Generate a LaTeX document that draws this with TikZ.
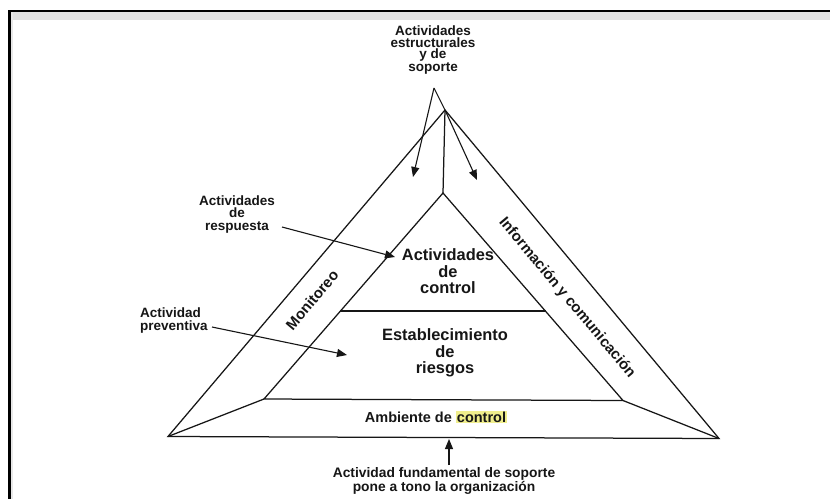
\documentclass[tikz,border=0pt]{standalone}
\usepackage{fontspec}
\setmainfont{Liberation Sans}
\usetikzlibrary{arrows.meta}
\definecolor{ink}{RGB}{22,22,22}
\definecolor{band}{RGB}{226,226,226}
\definecolor{hl}{RGB}{240,238,140}
\newcommand{\fsz}[2]{\fontsize{#1}{#2}\selectfont}

\begin{document}
\begin{tikzpicture}[x=1pt,y=-1pt,
  edge/.style={draw=ink, line width=1.25pt, line join=miter},
  pointer/.style={draw=ink, line width=1.1pt, -{Triangle[length=10pt,width=8pt]}},
  lbl/.style={inner sep=0pt, text=ink, align=center},
  small/.style={font=\bfseries\fsz{13.5}{12.5}},
  large/.style={font=\bfseries\fsz{16.4}{16.7}},
  side/.style={font=\bfseries\fsz{15}{16}}]

  % page and window frame
  \useasboundingbox (0,0) rectangle (830,499);
  \fill[white] (0,0) rectangle (830,499);
  \fill[band] (11,12) rectangle (830,20);
  \fill[gray!18] (11,12) rectangle (13,499);
  \fill[black] (8,9.5) rectangle (830,12);
  \fill[black] (8,9.5) rectangle (11,499);

  % corner points of the pyramid
  \coordinate (top) at (434,88);
  \coordinate (apex) at (445,110);
  \coordinate (ol) at (168,436.5);
  \coordinate (or) at (719,438.5);
  \coordinate (ia) at (443,193);
  \coordinate (il) at (264,399);
  \coordinate (ir) at (623,400.5);
  \coordinate (ml) at (340,311);
  \coordinate (mr) at (546,311);

  % outer and inner triangles with their joins
  \draw[edge] (ol) -- (apex) -- (or) -- cycle;
  \draw[edge] (il) -- (ia) -- (ir) -- cycle;
  \draw[edge] (ol) -- (il);
  \draw[edge] (or) -- (ir);
  \draw[edge] (apex) -- (ia);
  \draw[edge] (ml) -- (mr);

  % texts
  \node[lbl, font=\bfseries\fsz{13.5}{11.5}, anchor=north] (struct) at (433,26)
    {Actividades\\estructurales\\y de\\soporte};
  \node[lbl, small, anchor=north] (resp) at (237,195.3)
    {Actividades\\de\\respuesta};
  \node[lbl, font=\bfseries\fsz{13.5}{13}, align=left, anchor=north west] (prev) at (140,307.5)
    {Actividad\\preventiva};
  \node[lbl, large, anchor=north] (ctrl) at (448,248.5)
    {Actividades\\de\\control};
  \node[lbl, large, anchor=north] (risk) at (445,328.5)
    {Establecimiento\\de\\riesgos};
  \node[lbl, side, rotate=50] (mon) at (312,300) {Monitoreo};
  \node[lbl, side, rotate=-50] (info) at (567,298) {Información y comunicación};
  \node[lbl, font=\bfseries\fsz{14.5}{16}, anchor=base] (amb) at (436,422)
    {Ambiente de {\setlength\fboxsep{1pt}\colorbox{hl}{control}}};
  \node[lbl, font=\bfseries\fsz{13.8}{14}, anchor=north] (fund) at (444,467)
    {Actividad fundamental de soporte\\pone a tono la organización};

  % pointers
  \coordinate (tipM) at (413,177);
  \coordinate (tipI) at (477,180);
  \coordinate (respEnd) at (282,227);
  \coordinate (tipC) at (395,257);
  \coordinate (prevEnd) at (212,327);
  \coordinate (tipR) at (347,355);
  \coordinate (fundTop) at (449,465);
  \coordinate (tipA) at (449,439);

  \draw[pointer] (top) -- (tipM);
  \draw[edge, line width=1.1pt] (top) -- (apex);
  \draw[pointer] (apex) -- (tipI);
  \draw[pointer] (respEnd) -- (tipC);
  \draw[pointer] (prevEnd) -- (tipR);
  \draw[pointer] (fundTop) -- (tipA);
\end{tikzpicture}
\end{document}
